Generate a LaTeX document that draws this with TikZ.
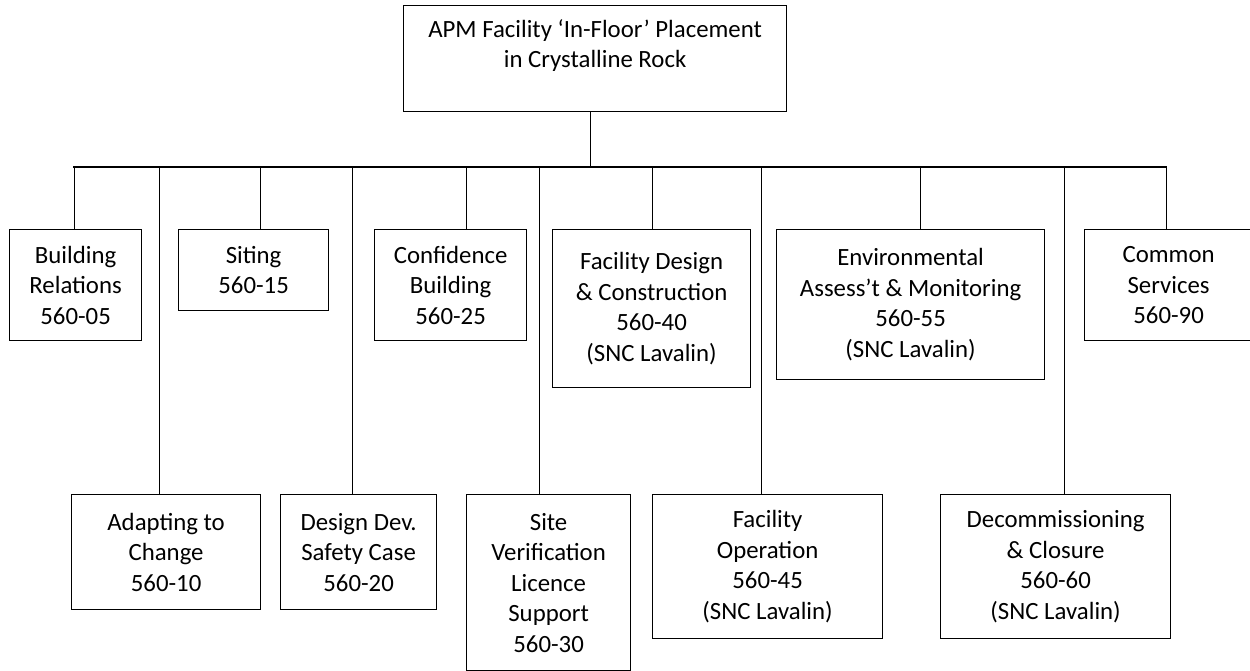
\documentclass[tikz,border=0pt]{standalone}
\usepackage{fontspec}
\setmainfont{Carlito}
\begin{document}
\begin{tikzpicture}[x=1pt,y=-1pt,line width=1.2pt,
  box/.style={draw, align=center, inner sep=0pt, anchor=north west,
    font=\fontsize{24.8}{30.5}\selectfont},
  conn/.style={line width=1.2pt, line cap=rect}]
\useasboundingbox (0,0) rectangle (1250,671);
\begin{scope}
\clip (0,0) rectangle (1250,671);
% top
\node[box, minimum width=383pt, minimum height=106pt] (top) at (403,5)
  {APM Facility ‘In-Floor’ Placement\\in Crystalline Rock\\\mbox{}};
% upper row
\node[box, minimum width=132pt, minimum height=111pt] (br) at (9,229) {Building\\Relations\\560-05};
\node[box, minimum width=150pt, minimum height=81pt] (sit) at (178,229) {Siting\\560-15};
\node[box, minimum width=152pt, minimum height=111pt] (conf) at (374,229) {Confidence\\Building\\560-25};
\node[box, minimum width=198pt, minimum height=158pt] (fd) at (552,229) {Facility Design\\\& Construction\\560-40\\(SNC Lavalin)};
\node[box, minimum width=268pt, minimum height=150pt] (env) at (776,229) {Environmental\\Assess’t \& Monitoring\\560-55\\(SNC Lavalin)};
\node[box, minimum width=168pt, minimum height=111pt] (com) at (1084,229) {Common\\Services\\560-90};
% lower row
\node[box, minimum width=189pt, minimum height=115pt] (ad) at (71,494) {Adapting to\\Change\\560-10};
\node[box, minimum width=156pt, minimum height=115pt] (dd) at (280,494) {Design Dev.\\Safety Case\\560-20};
\node[box, minimum width=164pt, minimum height=176pt] (sv) at (466,494) {Site\\Verification\\Licence\\Support\\560-30};
\node[box, minimum width=230pt, minimum height=144pt] (fo) at (652,494) {Facility\\Operation\\560-45\\(SNC Lavalin)};
\node[box, minimum width=230pt, minimum height=144pt] (dc) at (940,494) {Decommissioning\\\& Closure\\560-60\\(SNC Lavalin)};
% connectors
\coordinate (barL) at (74,167);
\coordinate (barR) at (1166,167);
\draw[conn] ([xshift=-4.5pt]top.south) -- ([xshift=-4.5pt]top.south |- barL);
\draw[conn] (barL) -- (barR);
\draw[conn] ([xshift=-1pt]br.north) -- ([xshift=-1pt]br.north |- barL);
\draw[conn] ([xshift=7pt]sit.north) -- ([xshift=7pt]sit.north |- barL);
\draw[conn] ([xshift=16pt]conf.north) -- ([xshift=16pt]conf.north |- barL);
\draw[conn] ([xshift=1pt]fd.north) -- ([xshift=1pt]fd.north |- barL);
\draw[conn] ([xshift=10pt]env.north) -- ([xshift=10pt]env.north |- barL);
\draw[conn] ([xshift=-2pt]com.north) -- ([xshift=-2pt]com.north |- barL);
\draw[conn] ([xshift=-6.5pt]ad.north) -- ([xshift=-6.5pt]ad.north |- barL);
\draw[conn] ([xshift=-6pt]dd.north) -- ([xshift=-6pt]dd.north |- barL);
\draw[conn] ([xshift=-9pt]sv.north) -- ([xshift=-9pt]sv.north |- barL);
\draw[conn] ([xshift=-6pt]fo.north) -- ([xshift=-6pt]fo.north |- barL);
\draw[conn] ([xshift=9pt]dc.north) -- ([xshift=9pt]dc.north |- barL);
\end{scope}
\end{tikzpicture}
\end{document}
